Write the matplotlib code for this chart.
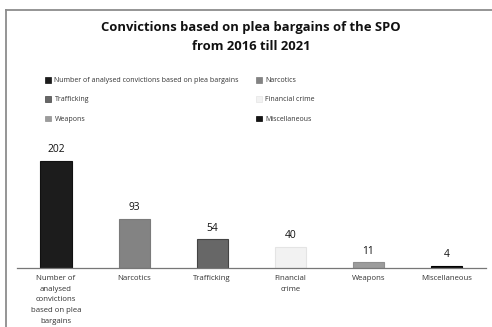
import matplotlib
matplotlib.use("Agg")
import matplotlib.pyplot as plt
from matplotlib.lines import Line2D
from matplotlib.patches import Patch

categories = [
    "Number of analysed convictions based on plea bargains",
    "Narcotics",
    "Trafficking",
    "Financial crime",
    "Weapons",
    "Miscellaneous",
]
tick_labels = [
    "Number of\nanalysed\nconvictions\nbased on plea\nbargains",
    "Narcotics",
    "Trafficking",
    "Financial\ncrime",
    "Weapons",
    "Miscellaneous",
]
values = [202, 93, 54, 40, 11, 4]
colors = ["#1c1c1c", "#838383", "#676767", "#f2f2f2", "#9c9c9c", "#141414"]
edges = ["#111111", "#7a7a7a", "#444444", "#e4e4e4", "#8f8f8f", "#000000"]

plt.rcParams["font.family"] = ["Open Sans", "DejaVu Sans"]

W, H = 492, 327
fig = plt.figure(figsize=(W / 100, H / 100), dpi=100)
fig.patch.set_facecolor("white")

px_per_unit = 107 / 202
ymax = 240
ax_h = ymax * px_per_unit
ax = fig.add_axes([17 / W, (H - 268) / H, 468.5 / W, ax_h / H])
x = range(len(values))
ax.bar(x, values, width=0.4, color=colors, edgecolor=edges, linewidth=0.8, zorder=2)
ax.set_xlim(-0.5, len(values) - 0.5)
ax.set_ylim(0, ymax)
for s in ["top", "right", "left"]:
    ax.spines[s].set_visible(False)
ax.spines["bottom"].set_color("#777777")
ax.spines["bottom"].set_linewidth(0.9)
ax.set_yticks([])
ax.set_xticks(list(x))
ax.set_xticklabels(tick_labels, fontsize=5.6, color="#333333", linespacing=1.75)
ax.tick_params(axis="x", length=0, pad=5)
for xi, v in zip(x, values):
    ax.annotate(str(v), (xi, v), xytext=(0, 4), textcoords="offset points",
                ha="center", va="bottom", fontsize=7.4, color="#111111")

fig.text(251 / W, 1 - 37 / H, "Convictions based on plea bargains of the SPO\nfrom 2016 till 2021",
         ha="center", va="center", fontsize=9.4, fontweight="bold", color="#111111",
         linespacing=1.5)

# legend entries are laid out row by row, two per row
order = [0, 2, 4, 1, 3, 5]
handles = [Patch(facecolor=colors[i], edgecolor=edges[i], linewidth=0.5) for i in order]
labels = [categories[i] for i in order]
leg = fig.legend(handles, labels, loc="upper left", bbox_to_anchor=(42 / W, 1 - 74 / H),
                 ncol=2, frameon=False, fontsize=5.0, handlelength=0.9, handleheight=0.9,
                 handletextpad=0.5, columnspacing=2.4, labelspacing=1.75, borderaxespad=0)
for t in leg.get_texts():
    t.set_color("#333333")

# frame lines along the top and left edges
fig.add_artist(Line2D([6 / W, 6 / W], [1 - 9.5 / H, 0], transform=fig.transFigure,
                      color="#8c8c8c", linewidth=1.3))
fig.add_artist(Line2D([6 / W, 1], [1 - 9.5 / H, 1 - 9.5 / H], transform=fig.transFigure,
                      color="#8c8c8c", linewidth=1.3))

fig.savefig("out.png", dpi=100, facecolor="white")
